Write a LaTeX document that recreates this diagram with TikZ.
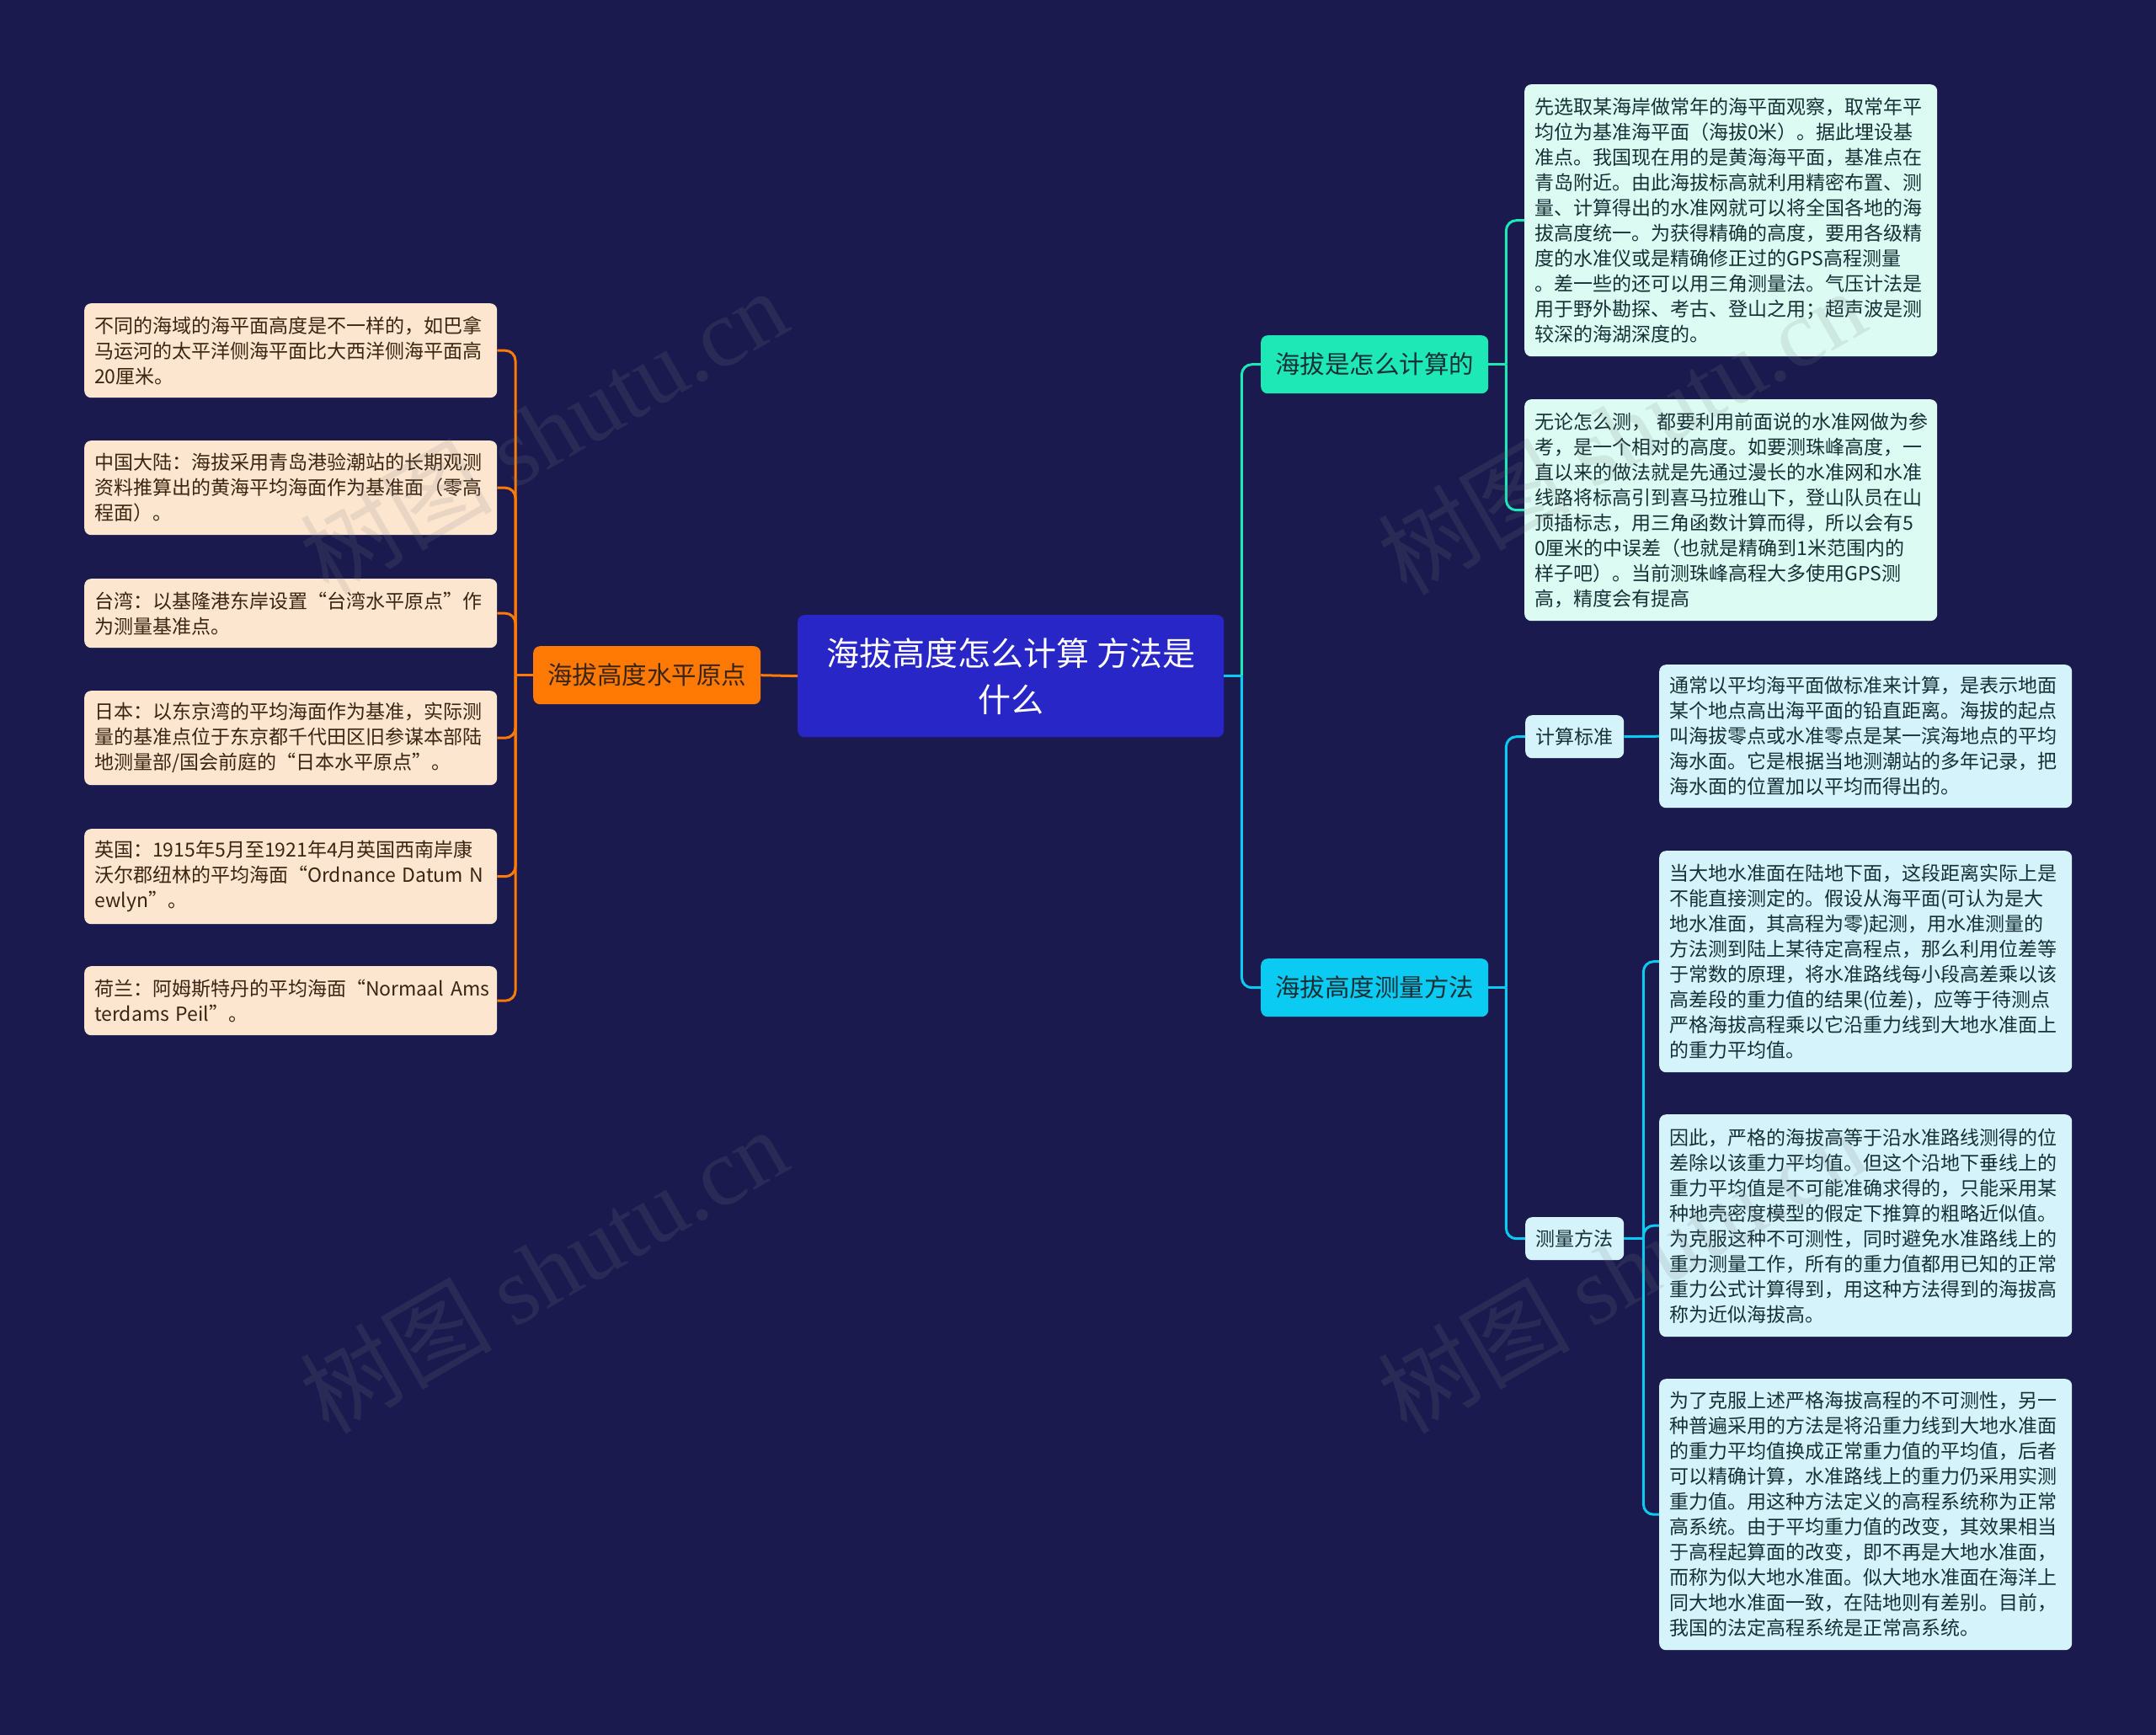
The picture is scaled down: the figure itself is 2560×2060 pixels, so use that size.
\documentclass[tikz,border=0pt]{standalone}
\usepackage{fontspec}
\setmainfont{Noto Sans CJK SC}
\newfontfamily\wmlatin{Liberation Serif}
\usepackage{tikz}
\usepackage{xcolor}

\definecolor{bgnavy}{HTML}{1A1A4F}
\definecolor{rootblue}{HTML}{2826C6}
\definecolor{orangebr}{HTML}{FF7A05}
\definecolor{tealbr}{HTML}{1EE8B6}
\definecolor{cyanbr}{HTML}{0CCBF2}
\definecolor{peachleaf}{HTML}{FDE6D0}
\definecolor{mintleaf}{HTML}{DCFCF3}
\definecolor{skyleaf}{HTML}{D5F3FB}
\definecolor{browntxt}{HTML}{3A2412}
\definecolor{darktxt}{HTML}{163036}

\begin{document}
\begin{tikzpicture}[x=1pt,y=-1pt,
  box/.style={rounded corners=8pt,inner xsep=12pt,inner ysep=0pt,anchor=north west},
  leafL/.style={box,fill=peachleaf,text=browntxt,text width=466pt,align=left,
    font=\fontsize{23}{30}\selectfont},
  leafR/.style={leafL,fill=mintleaf,text=darktxt},
  leafS/.style={leafL,fill=skyleaf,text=darktxt},
  mainbr/.style={box,minimum width=270pt,minimum height=69pt,align=center,
    font=\fontsize{29.5}{36}\selectfont},
  subbr/.style={box,fill=skyleaf,text=darktxt,minimum width=117pt,minimum height=51pt,
    align=center,font=\fontsize{23}{28}\selectfont},
  link/.style={line width=3pt,rounded corners=12pt},
  watermark/.style={text=gray,opacity=0.16,font=\fontsize{114}{120}\selectfont}]
  \useasboundingbox (0,0) rectangle (2560,2060);
  \fill[bgnavy] (0,0) rectangle (2560,2060);

  % midten
  \node[box,fill=rootblue,text=white,minimum width=506pt,minimum height=145pt,align=center,
    font=\fontsize{39}{55}\selectfont] (root) at (947,730)
    {海拔高度怎么计算 方法是\\什么};

  % venstre gren
  \node[mainbr,fill=orangebr,text=browntxt] (origin) at (633,767) {海拔高度水平原点};
  \node[leafL,minimum height=112pt] (l1) at (100,360)
    {不同的海域的海平面高度是不一样的，如巴拿\\马运河的太平洋侧海平面比大西洋侧海平面高\\20厘米。};
  \node[leafL,minimum height=112pt] (l2) at (100,523)
    {中国大陆：海拔采用青岛港验潮站的长期观测\\资料推算出的黄海平均海面作为基准面（零高\\程面）。};
  \node[leafL,minimum height=82pt] (l3) at (100,687)
    {台湾：以基隆港东岸设置“台湾水平原点”作\\为测量基准点。};
  \node[leafL,minimum height=112pt] (l4) at (100,820)
    {日本：以东京湾的平均海面作为基准，实际测\\量的基准点位于东京都千代田区旧参谋本部陆\\地测量部/国会前庭的“日本水平原点”。};
  \node[leafL,minimum height=113pt] (l5) at (100,984)
    {英国：1915年5月至1921年4月英国西南岸康\\沃尔郡纽林的平均海面“Ordnance~Datum~N\\ewlyn”。};
  \node[leafL,minimum height=82pt] (l6) at (100,1147)
    {荷兰：阿姆斯特丹的平均海面“Normaal~Ams\\terdams~Peil”。};

  % hoyre gren
  \node[mainbr,fill=tealbr,text=darktxt] (calc) at (1497,398) {海拔是怎么计算的};
  \node[mainbr,fill=cyanbr,text=darktxt] (method) at (1497,1138) {海拔高度测量方法};
  \node[leafR,minimum height=323pt] (ca) at (1810,100)
    {先选取某海岸做常年的海平面观察，取常年平\\均位为基准海平面（海拔0米）。据此埋设基\\准点。我国现在用的是黄海海平面，基准点在\\青岛附近。由此海拔标高就利用精密布置、测\\量、计算得出的水准网就可以将全国各地的海\\拔高度统一。为获得精确的高度，要用各级精\\度的水准仪或是精确修正过的GPS高程测量\\。差一些的还可以用三角测量法。气压计法是\\用于野外勘探、考古、登山之用；超声波是测\\较深的海湖深度的。};
  \node[leafR,minimum height=263pt] (cb) at (1810,474)
    {无论怎么测，~都要利用前面说的水准网做为参\\考，是一个相对的高度。如要测珠峰高度，一\\直以来的做法就是先通过漫长的水准网和水准\\线路将标高引到喜马拉雅山下，登山队员在山\\顶插标志，用三角函数计算而得，所以会有5\\0厘米的中误差（也就是精确到1米范围内的\\样子吧）。当前测珠峰高程大多使用GPS测\\高，精度会有提高};
  \node[subbr] (std) at (1811,849) {计算标准};
  \node[subbr] (meas) at (1811,1445) {测量方法};
  \node[leafS,minimum height=170pt] (sa) at (1970,789)
    {通常以平均海平面做标准来计算，是表示地面\\某个地点高出海平面的铅直距离。海拔的起点\\叫海拔零点或水准零点是某一滨海地点的平均\\海水面。它是根据当地测潮站的多年记录，把\\海水面的位置加以平均而得出的。};
  \node[leafS,minimum height=263pt] (ma) at (1970,1010)
    {当大地水准面在陆地下面，这段距离实际上是\\不能直接测定的。假设从海平面(可认为是大\\地水准面，其高程为零)起测，用水准测量的\\方法测到陆上某待定高程点，那么利用位差等\\于常数的原理，将水准路线每小段高差乘以该\\高差段的重力值的结果(位差)，应等于待测点\\严格海拔高程乘以它沿重力线到大地水准面上\\的重力平均值。};
  \node[leafS,minimum height=264pt] (mb) at (1970,1323)
    {因此，严格的海拔高等于沿水准路线测得的位\\差除以该重力平均值。但这个沿地下垂线上的\\重力平均值是不可能准确求得的，只能采用某\\种地壳密度模型的假定下推算的粗略近似值。\\为克服这种不可测性，同时避免水准路线上的\\重力测量工作，所有的重力值都用已知的正常\\重力公式计算得到，用这种方法得到的海拔高\\称为近似海拔高。};
  \node[leafS,minimum height=322pt] (mc) at (1970,1637)
    {为了克服上述严格海拔高程的不可测性，另一\\种普遍采用的方法是将沿重力线到大地水准面\\的重力平均值换成正常重力值的平均值，后者\\可以精确计算，水准路线上的重力仍采用实测\\重力值。用这种方法定义的高程系统称为正常\\高系统。由于平均重力值的改变，其效果相当\\于高程起算面的改变，即不再是大地水准面，\\而称为似大地水准面。似大地水准面在海洋上\\同大地水准面一致，在陆地则有差别。目前，\\我国的法定高程系统是正常高系统。};

  % linjer
  \draw[link,orangebr] (root.west) -- (origin.east);
  \draw[link,orangebr] (origin.west) -- ++(-21,0) coordinate (lbar);
  \foreach \n in {l1,l2,l3,l4,l5,l6}
    \draw[link,orangebr] (lbar) |- (\n.east);
  \draw[link,cyanbr] (root.east) -- ++(21,0) coordinate (rbar);
  \draw[link,tealbr] (rbar) |- (calc.west);
  \draw[link,cyanbr] (rbar) |- (method.west);
  \draw[link,tealbr] (calc.east) -- ++(21,0) coordinate (cbar);
  \draw[link,tealbr] (cbar) |- (ca.west);
  \draw[link,tealbr] (cbar) |- (cb.west);
  \draw[link,cyanbr] (method.east) -- ++(21,0) coordinate (mbar);
  \draw[link,cyanbr] (mbar) |- (std.west);
  \draw[link,cyanbr] (mbar) |- (meas.west);
  \draw[link,cyanbr] (std.east) -- (sa.west);
  \draw[link,cyanbr] (meas.east) -- ++(23,0) coordinate (dbar);
  \foreach \n in {ma,mb,mc}
    \draw[link,cyanbr] (dbar) |- (\n.west);

  % vannmerke
  \foreach \wx/\wy [count=\i] in {645/512,645/1508,1925/512,1925/1508}
    \node[watermark,rotate=30] (wm\i) at (\wx,\wy) {树图 {\wmlatin shutu.cn}};
\end{tikzpicture}
\end{document}
